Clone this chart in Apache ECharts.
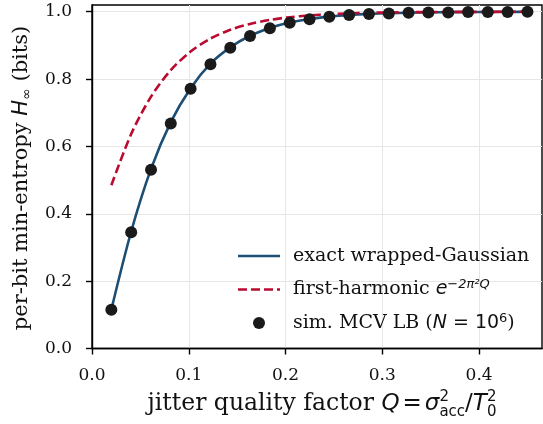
<!DOCTYPE html>
<html><head><meta charset="utf-8">
<script src="https://cdn.jsdelivr.net/npm/echarts@6/dist/echarts.min.js"></script>
<style>html,body{margin:0;padding:0;background:#fff}#c{width:543px;height:424px}</style>
</head><body><div id="c"></div>
<script>
// ---- data ----
const Q = [0.0200,0.0405,0.0610,0.0814,0.1019,0.1224,0.1429,0.1633,0.1838,0.2043,0.2248,
           0.2452,0.2657,0.2862,0.3067,0.3271,0.3476,0.3681,0.3886,0.4090,0.4295,0.4500];
const exactH = [0.1156,0.3474,0.5333,0.6721,0.7730,0.8460,0.8943,0.9287,0.9520,0.9678,0.9784,
                0.9855,0.9903,0.9936,0.9957,0.9971,0.9981,0.9987,0.9991,0.9994,0.9996,0.9998];
const firstHarmH = [0.4848,0.6369,0.7478,0.8267,0.8819,0.9203,0.9463,0.9639,0.9758,0.9838,0.9892,
                    0.9928,0.9952,0.9968,0.9978,0.9986,0.9990,0.9994,0.9996,0.9997,0.9998,0.9999];
const simH = [0.115,0.345,0.531,0.668,0.771,0.844,0.893,0.928,0.951,0.967,0.978,
              0.985,0.990,0.993,0.995,0.997,0.998,0.998,0.999,0.999,0.999,1.000];
const xTicks = [0.0,0.1,0.2,0.3,0.4];
const yTicks = [0.0,0.2,0.4,0.6,0.8,1.0];
const seriesNames = ['exact wrapped-Gaussian','first-harmonic','sim. MCV LB'];

// ---- styling ----
const BLUE = '#1d4e74', RED = '#bb0a30', DOT = '#1a1a1a';
const SERIF = "'DejaVu Serif'", SANS = "'DejaVu Sans'";
const zip = (xs, ys) => xs.map((x, i) => [x, ys[i]]);

const measureCtx = document.createElement('canvas').getContext('2d');
function mathText(pieces, fill) {
  let x = 0; const items = [];
  pieces.forEach(p => {
    const grp = p.stack ? p.stack : [p];
    let w = 0;
    grp.forEach(q => {
      measureCtx.font = q.font;
      const ww = measureCtx.measureText(q.t).width;
      w = Math.max(w, ww);
      items.push({q, x});
    });
    x += w + (p.gap || 0);
  });
  const total = x;
  return items.map(({q, x}) => ({
    type: 'text', x: x - total / 2, y: (q.dy || 0) - 0.33 * q.size,
    style: { text: q.t, font: q.font, fill: fill, align: 'left', verticalAlign: 'middle' }
  }));
}
const serif = sz => `${sz}px ${SERIF}`;
const sansI = sz => `italic ${sz}px ${SANS}`;
const sans = sz => `${sz}px ${SANS}`;

const XS = 23.5, XM = 23, XSS = 15;
const xTitle = mathText([
  {t: 'jitter quality factor ', size: XS, font: serif(XS)},
  {t: 'Q', size: XM, font: sansI(XM), gap: 3},
  {t: '=', size: XM, font: sans(XM), gap: 3},
  {t: 'σ', size: XM, font: sansI(XM)},
  {stack: [{t: '2', size: XSS, font: sans(XSS), dy: -10}, {t: 'acc', size: XSS, font: sans(XSS), dy: 5}]},
  {t: '/', size: XM, font: sans(XM)},
  {t: 'T', size: XM, font: sansI(XM)},
  {stack: [{t: '2', size: XSS, font: sans(XSS), dy: -10}, {t: '0', size: XSS, font: sans(XSS), dy: 5}]}
], '#111');
const YS = 21, YSS = 14;
const yTitle = mathText([
  {t: 'per-bit min-entropy ', size: YS, font: serif(YS)},
  {t: 'H', size: YS, font: sansI(YS)},
  {t: '∞', size: YSS, font: sans(YSS), dy: 4},
  {t: ' (bits)', size: YS, font: serif(YS)}
], '#111');

const chart = echarts.init(document.getElementById('c'), null, {renderer: 'canvas'});
chart.setOption({
  animation: false,
  backgroundColor: '#fff',
  grid: {left: 92, top: 5, width: 450, height: 343.5, show: true, borderColor: '#000', borderWidth: 1.4, backgroundColor: 'transparent'},
  xAxis: {
    type: 'value', min: 0, max: 0.465, interval: 0.1,
    axisLine: {show: true, lineStyle: {color: '#000', width: 1.4}},
    axisTick: {show: true, length: 6, inside: false, lineStyle: {color: '#000', width: 1.4}, customValues: xTicks},
    axisLabel: {margin: 19, fontFamily: SERIF, fontSize: 17, color: '#111', customValues: xTicks,
      formatter: v => v.toFixed(1)},
    splitLine: {show: true, lineStyle: {color: '#e6e6e6', width: 1}}
  },
  yAxis: {
    type: 'value', min: 0, max: 1.02, interval: 0.2,
    axisLine: {show: true, lineStyle: {color: '#000', width: 1.4}},
    axisTick: {show: true, length: 6, inside: false, lineStyle: {color: '#000', width: 1.4}, customValues: yTicks},
    axisLabel: {margin: 20, fontFamily: SERIF, fontSize: 17, color: '#111', customValues: yTicks,
      formatter: v => v.toFixed(1)},
    splitLine: {show: true, lineStyle: {color: '#e6e6e6', width: 1}}
  },
  legend: {
    orient: 'vertical', left: 233, top: 240, itemWidth: 42, itemHeight: 12, itemGap: 11.5,
    selectedMode: false,
    textStyle: {fontFamily: SERIF, fontSize: 19, color: '#111', lineHeight: 22, padding: [0, 0, 0, 8],
      rich: {m: {fontFamily: SANS, fontStyle: 'italic', fontSize: 19},
             s: {fontFamily: SANS, fontSize: 19},
             sup: {fontFamily: SANS, fontStyle: 'italic', fontSize: 13, verticalAlign: 'top', lineHeight: 13},
             sup2: {fontFamily: SANS, fontSize: 13, verticalAlign: 'top', lineHeight: 13}}},
    formatter: name => {
      if (name === seriesNames[1]) return 'first-harmonic {m|e}{sup|−2π²Q}';
      if (name === seriesNames[2]) return 'sim. MCV LB ({m|N}{s| = 10}{sup2|6})';
      return name;
    },
    data: [
      {name: seriesNames[0], icon: 'path://M0,0h42v2.6h-42z', itemStyle: {color: BLUE}},
      {name: seriesNames[1], icon: 'path://M0,0h9v2.6h-9z M13,0h9v2.6h-9z M26,0h9v2.6h-9z M39,0h3v2.6h-3z', itemStyle: {color: RED}},
      {name: seriesNames[2], icon: 'circle', itemStyle: {color: DOT}}
    ]
  },
  series: [
    {name: seriesNames[0], type: 'line', data: zip(Q, exactH), symbol: 'none', showSymbol: false,
     smooth: 0.3, lineStyle: {color: BLUE, width: 2.6}, itemStyle: {color: BLUE}, z: 2},
    {name: seriesNames[1], type: 'line', data: zip(Q, firstHarmH), symbol: 'none', showSymbol: false,
     smooth: 0.3, lineStyle: {color: RED, width: 2.6, type: [9, 4]}, itemStyle: {color: RED}, z: 3},
    {name: seriesNames[2], type: 'scatter', data: zip(Q, simH), symbol: 'circle', symbolSize: 12,
     itemStyle: {color: DOT, opacity: 1}, z: 4}
  ],
  graphic: [
    {type: 'group', x: 322, y: 412, children: xTitle, silent: true},
    {type: 'group', x: 28, y: 178, rotation: Math.PI / 2, children: yTitle, silent: true}
  ]
});
</script></body></html>
